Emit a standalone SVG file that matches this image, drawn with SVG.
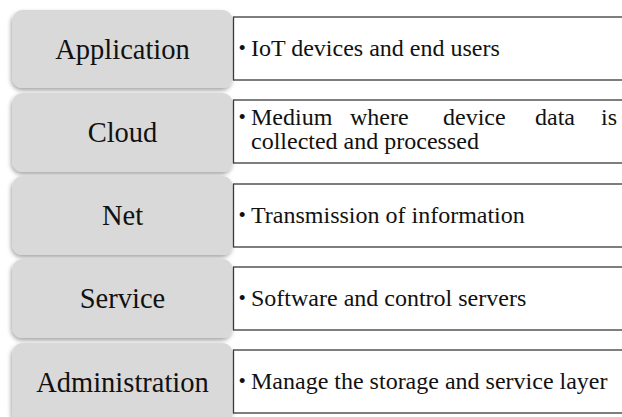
<svg xmlns="http://www.w3.org/2000/svg" width="622" height="417" viewBox="0 0 622 417">
<defs>
<filter id="sh" x="-10%" y="-10%" width="120%" height="130%">
<feDropShadow dx="-1" dy="2.5" stdDeviation="2.2" flood-color="#000" flood-opacity="0.35"/>
</filter>
<style>
.layer{fill:#d9d9d9;filter:url(#sh)}
.desc{fill:#fff;stroke:#3a3a3a;stroke-width:1.3}
.lt{font-family:"Liberation Serif","Times New Roman",serif;font-size:28.5px;fill:#111;text-anchor:middle}
.bt{font-family:"Liberation Serif","Times New Roman",serif;font-size:24px;fill:#111}
.bu{font-family:"Liberation Serif","Times New Roman",serif;font-size:21px;fill:#111}
</style>
</defs>
<rect width="622" height="417" fill="#fff"/>
<g id="application">
<rect class="layer" x="12" y="10" width="221" height="78" rx="11"/>
<rect class="desc" x="233.5" y="17" width="400" height="63"/>
<text class="lt" x="122.5" y="59">Application</text>
<text class="bu" x="238.5" y="55">•</text>
<text class="bt" x="251" y="56">IoT devices and end users</text>
</g>
<g id="cloud">
<rect class="layer" x="12" y="93" width="221" height="79" rx="11"/>
<rect class="desc" x="233.5" y="100" width="400" height="63"/>
<text class="lt" x="122.5" y="142">Cloud</text>
<text class="bu" x="238.5" y="124">•</text>
<text class="bt" y="125"><tspan x="251">Medium</tspan><tspan x="350">where</tspan><tspan x="443">device</tspan><tspan x="535">data</tspan><tspan x="601">is</tspan></text>
<text class="bt" x="251" y="149">collected and processed</text>
</g>
<g id="net">
<rect class="layer" x="12" y="176" width="221" height="79" rx="11"/>
<rect class="desc" x="233.5" y="184" width="400" height="63"/>
<text class="lt" x="122.5" y="225">Net</text>
<text class="bu" x="238.5" y="222">•</text>
<text class="bt" x="251" y="223">Transmission of information</text>
</g>
<g id="service">
<rect class="layer" x="12" y="259" width="221" height="79" rx="11"/>
<rect class="desc" x="233.5" y="267" width="400" height="63"/>
<text class="lt" x="122.5" y="308">Service</text>
<text class="bu" x="238.5" y="305">•</text>
<text class="bt" x="251" y="306">Software and control servers</text>
</g>
<g id="administration">
<rect class="layer" x="12" y="343" width="221" height="80" rx="11"/>
<rect class="desc" x="233.5" y="350" width="400" height="63"/>
<text class="lt" x="122.5" y="392">Administration</text>
<text class="bu" x="238.5" y="388">•</text>
<text class="bt" x="251" y="389">Manage the storage and service layer</text>
</g>
<g id="connectors"></g>
</svg>
